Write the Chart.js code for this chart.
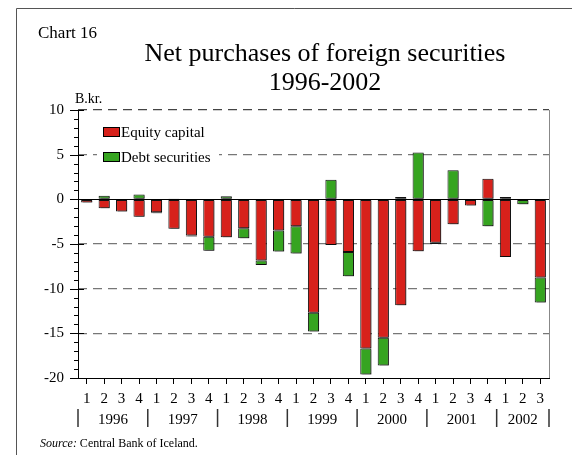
<!DOCTYPE html>
<html>
<head>
<meta charset="utf-8">
<script src="https://cdn.jsdelivr.net/npm/chart.js@4/dist/chart.umd.min.js"></script>
<style>
  html, body { margin: 0; padding: 0; background: #fff; }
  #caixa { width: 572px; height: 455px; }
</style>
</head>
<body>
<div id="caixa"><canvas id="grafico-1" width="572" height="455"></canvas></div>
<script>
// quarters 1996Q1 - 2002Q3
var trimestres = ['1','2','3','4', '1','2','3','4', '1','2','3','4', '1','2','3','4',
                  '1','2','3','4', '1','2','3','4', '1','2','3'];
var anos = ['1996', '1997', '1998', '1999', '2000', '2001', '2002'];

// B.kr.
var equityCapital = [-0.35, -1.0, -1.35, -1.95, -1.45, -3.3, -4.05, -4.2, -4.25, -3.25, -6.85, -3.5, -3.0, -12.7,
                     -5.1, -5.9, -16.7, -15.5, -11.85, -5.8, -4.85, -2.8, -0.7, 2.3, -6.45, 0, -8.75];
var debtSecurities = [0, 0.4, 0, 0.55, -0.1, 0.1, -0.1, -1.55, 0.35, -1.1, -0.5, -2.35, -3.05, -2.1,
                      2.2, -2.7, -2.9, -3.1, 0.25, 5.25, -0.15, 3.25, 0, -3.0, 0.25, -0.55, -2.8];

var serif = '"Liberation Serif", "Times New Roman", serif';

var extras = {
  id: 'extras',
  beforeDatasetsDraw: function(chart) {
    var ctx = chart.ctx;
    ctx.save();
    ctx.shadowColor = 'rgba(0,0,0,0.4)';
    ctx.shadowOffsetX = 2;
    ctx.shadowOffsetY = 1;
    ctx.shadowBlur = 0;
  },
  afterDatasetsDraw: function(chart) {
    chart.ctx.restore();
  },
  afterDraw: function(chart) {
    var ctx = chart.ctx;
    var a = chart.chartArea;
    var x = chart.scales.x;
    var y = chart.scales.y;
    ctx.save();

    // frame
    ctx.strokeStyle = '#555';
    ctx.lineWidth = 1;
    ctx.beginPath();
    ctx.moveTo(16.5, 455);
    ctx.lineTo(16.5, 8.5);
    ctx.lineTo(572, 8.5);
    ctx.stroke();

    // right edge of plot
    ctx.strokeStyle = '#888';
    ctx.beginPath();
    ctx.moveTo(a.right + 0.5, a.top);
    ctx.lineTo(a.right + 0.5, a.bottom);
    ctx.stroke();

    // zero line
    var y0 = Math.round(y.getPixelForValue(0)) + 0.5;
    ctx.strokeStyle = '#000';
    ctx.beginPath();
    ctx.moveTo(a.left, y0);
    ctx.lineTo(a.right, y0);
    ctx.stroke();

    // y axis with minor ticks
    ctx.beginPath();
    ctx.moveTo(a.left + 0.5, a.top);
    ctx.lineTo(a.left + 0.5, a.bottom);
    for (var v = -20; v <= 10; v++) {
      var py = Math.round(y.getPixelForValue(v)) + 0.5;
      if (v % 5 === 0) {
        ctx.moveTo(a.left - 8, py);
        ctx.lineTo(a.left + 6, py);
      } else {
        ctx.moveTo(a.left - 4, py);
        ctx.lineTo(a.left + 1, py);
      }
    }
    ctx.stroke();

    // years under the quarters
    var passo = x.getPixelForValue(1) - x.getPixelForValue(0);
    ctx.fillStyle = '#000';
    ctx.font = '15px ' + serif;
    ctx.textAlign = 'center';
    ctx.textBaseline = 'alphabetic';
    ctx.strokeStyle = '#333';
    ctx.lineWidth = 1.5;
    var inicio = 0;
    for (var i = 0; i < anos.length; i++) {
      var n = Math.min(4, trimestres.length - inicio);
      var fim = inicio + n - 1;
      var esq = x.getPixelForValue(inicio) - passo / 2;
      var dir = x.getPixelForValue(fim) + passo / 2;
      ctx.fillText(anos[i], (esq + dir) / 2, 424);
      ctx.beginPath();
      ctx.moveTo(esq, 409);
      ctx.lineTo(esq, 427);
      if (i === anos.length - 1) {
        ctx.moveTo(dir, 409);
        ctx.lineTo(dir, 427);
      }
      ctx.stroke();
      inicio += n;
    }

    // legend
    ctx.fillStyle = '#fff';
    ctx.fillRect(97, 120, 122, 46);
    ctx.lineWidth = 1;
    ctx.strokeStyle = '#000';
    ctx.textAlign = 'left';
    ctx.font = '15px ' + serif;
    chart.data.datasets.forEach(function(ds, k) {
      var top = 127 + k * 25;
      ctx.fillStyle = ds.backgroundColor;
      ctx.fillRect(103, top, 17, 10);
      ctx.strokeRect(103.5, top + 0.5, 16, 9);
      ctx.fillStyle = '#000';
      ctx.fillText(ds.label, 121, top + 10);
    });

    // texts
    ctx.font = '17px ' + serif;
    ctx.fillText('Chart 16', 38, 38);
    ctx.font = '14px ' + serif;
    ctx.fillText('B.kr.', 75, 103);
    ctx.font = '26px ' + serif;
    ctx.textAlign = 'center';
    ctx.fillText('Net purchases of foreign securities', 325, 61);
    ctx.fillText('1996-2002', 325, 90);

    ctx.textAlign = 'left';
    ctx.font = 'italic 12px ' + serif;
    ctx.fillText('Source:', 40, 447);
    var w = ctx.measureText('Source: ').width;
    ctx.font = '12px ' + serif;
    ctx.fillText('Central Bank of Iceland.', 40 + w, 447);
    ctx.restore();
  }
};

function criaGrafico(idGrafico) {
  var ctx = document.getElementById(idGrafico).getContext('2d');
  return new Chart(ctx, {
    type: 'bar',
    data: {
      labels: trimestres,
      datasets: [{
        label: 'Equity capital',
        data: equityCapital,
        backgroundColor: '#D7211B',
        borderColor: '#111',
        borderWidth: 1,
        borderSkipped: false
      }, {
        label: 'Debt securities',
        data: debtSecurities,
        backgroundColor: '#36A420',
        borderColor: '#111',
        borderWidth: 1,
        borderSkipped: false
      }]
    },
    options: {
      responsive: false,
      animation: false,
      events: [],
      layout: { padding: { left: 0, top: 110, right: 23, bottom: 0 } },
      datasets: { bar: { categoryPercentage: 0.64, barPercentage: 1 } },
      plugins: { legend: { display: false }, tooltip: { enabled: false } },
      scales: {
        x: {
          stacked: true,
          afterFit: function(s) { s.height = 77; },
          grid: { offset: false, drawOnChartArea: false, tickLength: 6, color: '#000' },
          border: { display: true, color: '#000', width: 1 },
          ticks: { color: '#000', font: { family: serif, size: 15 }, padding: 6, maxRotation: 0, autoSkip: false }
        },
        y: {
          stacked: true,
          min: -20,
          max: 10,
          afterFit: function(s) { s.width = 78; },
          border: { display: false, dash: [9, 6] },
          grid: {
            drawTicks: false,
            color: function(c) {
              var v = c.tick.value;
              if (v === 10) return '#444';
              if (v === 0 || v === -20) return 'rgba(0,0,0,0)';
              return '#777';
            },
            lineWidth: 1.2
          },
          ticks: { stepSize: 5, color: '#000', font: { family: serif, size: 15 }, padding: 14 }
        }
      }
    },
    plugins: [extras]
  });
}

criaGrafico('grafico-1');
</script>
</body>
</html>
